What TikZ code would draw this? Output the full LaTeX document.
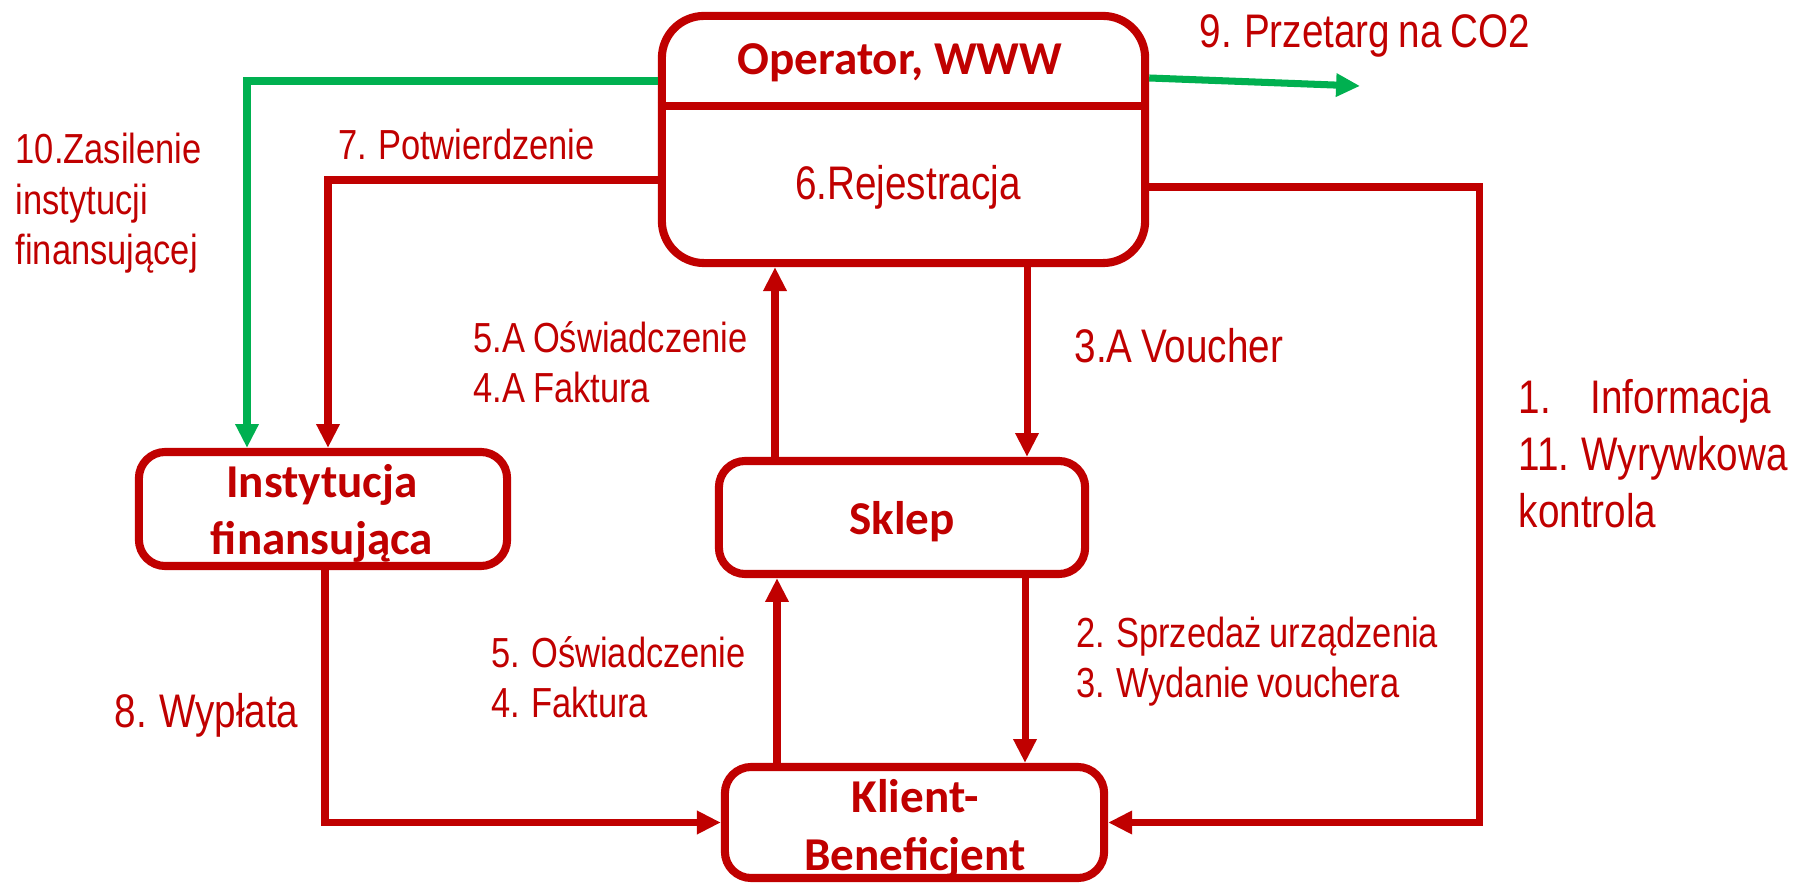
\documentclass[tikz,border=0pt]{standalone}
\usepackage{fontspec}
\setmainfont{Liberation Sans}[FakeStretch=0.82,WordSpace=0.8]
\newfontfamily\boxfont{Carlito}
\usetikzlibrary{arrows.meta}
\definecolor{boxred}{RGB}{192,0,0}
\definecolor{flowgreen}{RGB}{0,176,80}
\tikzset{
  box/.style={draw=boxred,line width=2.3pt,rounded corners=7.5pt,inner sep=0pt},
  boxtext/.style={text=boxred,font=\boxfont\bfseries\fontsize{13.4}{16.3}\selectfont,align=center,inner sep=0pt,anchor=base},
  flowtext/.style={text=boxred,font=\fontsize{11.95}{14.4}\selectfont,align=left,inner sep=0pt,anchor=base west},
  bigtext/.style={flowtext,font=\fontsize{13.4}{16.3}\selectfont},
  flow/.style={draw=boxred,line width=2pt,-{Triangle[length=6.8pt,width=6.3pt]}},
  greenflow/.style={flow,draw=flowgreen}
}
\begin{document}
\begin{tikzpicture}[x=0.01cm,y=-0.01cm]
\useasboundingbox (0,0) rectangle (1804,883);
% boxes
\node[box,rounded corners=12pt,minimum width=4.83cm,minimum height=2.47cm] (op) at (903.5,139.5) {};
\draw[boxred,line width=2.3pt] (op.west |- 0,106) -- (op.east |- 0,106);
\node[boxtext] (optitle) at (900,75) {Operator, WWW};
\node[bigtext,anchor=base] (rej) at (908,200) {6.Rejestracja};
\node[box,minimum width=3.68cm,minimum height=1.14cm] (inst) at (323,509) {};
\node[boxtext] (insttitle) at (322,555) {Instytucja\\finansująca};
\node[box,minimum width=3.66cm,minimum height=1.13cm] (sklep) at (902,517.5) {};
\node[boxtext] (skleptitle) at (902,535) {Sklep};
\node[box,minimum width=3.79cm,minimum height=1.11cm] (klient) at (914.5,822.5) {};
\node[boxtext] (klienttitle) at (915,870) {Klient-\\Beneficjent};

% connectors
\coordinate (co2) at (1360,86);
\coordinate (ctrl) at (1479,187);
\draw[greenflow] (op.west |- 0,81) -| (inst.north -| 247,0);
\draw[greenflow] (op.east |- 0,78) -- (co2);
\draw[flow] (op.west |- 0,180) -| (inst.north -| 328,0);
\draw[flow] (sklep.north -| 775,0) -- (op.south -| 775,0);
\draw[flow] (op.south -| 1027,0) -- (sklep.north -| 1027,0);
\draw[flow] (klient.north -| 777,0) -- (sklep.south -| 777,0);
\draw[flow] (sklep.south -| 1025,0) -- (klient.north -| 1025,0);
\draw[flow] (inst.south -| 325,0) |- (klient.west);
\draw[flow] (op.east |- ctrl) -- (ctrl) |- (klient.east);

% labels
\node[bigtext] (tender) at (1199,48) {9. Przetarg na CO2};
\node[flowtext] (funding) at (15,265) {10.Zasilenie\\instytucji\\finansującej};
\node[flowtext] (confirm) at (338,160) {7. Potwierdzenie};
\node[flowtext] (docsA) at (473,403) {5.A Oświadczenie\\4.A Faktura};
\node[bigtext] (voucherA) at (1074,363) {3.A Voucher};
\node[bigtext] (info) at (1518,528) {\makebox[0.72cm][l]{1.}Informacja\\11. Wyrywkowa\\kontrola};
\node[flowtext] (sale) at (1076,698) {2. Sprzedaż urządzenia\\3. Wydanie vouchera};
\node[flowtext] (docs) at (491,718) {5. Oświadczenie\\4. Faktura};
\node[bigtext] (payout) at (114,727) {8. Wypłata};
\end{tikzpicture}
\end{document}
